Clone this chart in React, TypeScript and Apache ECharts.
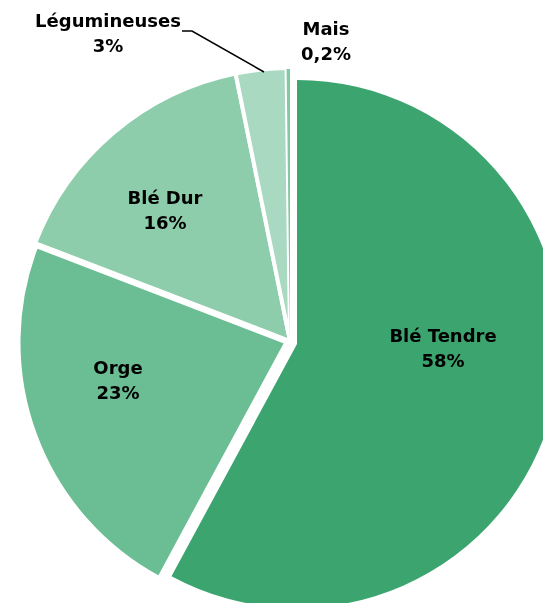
import React, { useEffect, useRef } from "react";
import * as echarts from "echarts";

const categories = ["Blé Tendre", "Orge", "Blé Dur", "Légumineuses", "Mais"];
const values = [58, 23, 16, 3, 0.2];
const percentLabels = ["58%", "23%", "16%", "3%", "0,2%"];
const colors = ["#3ba46f", "#6bbd93", "#8ecdab", "#a9d9c0", "#82c8a2"];

// slice styling (explosion offsets, radii, white borders)
const BASE_CENTER: [number, number] = [290, 341];
const sliceOffsets: [number, number][] = [
  [7, 3],
  [-3.5, 1.3],
  [0, 0],
  [0, 0],
  [0, 0],
];
const sliceRadius = [264, 268, 273, 273, 272];
const borderWidths = [0, 4, 4, 4, 0];

// label anchor positions (centre of the two-line text block)
const labelPos: [number, number][] = [
  [443, 348],
  [118, 380],
  [165, 210],
  [108, 33],
  [326, 41],
];

const FONT = "bold 18px 'DejaVu Sans', sans-serif";

export default function App() {
  const ref = useRef<HTMLDivElement>(null);
  useEffect(() => {
    if (!ref.current) return;
    const chart = echarts.init(ref.current, null, { renderer: "svg" });
    const transparent = "rgba(0,0,0,0)";

    const series = categories.map((_, k) => ({
      type: "pie",
      center: [
        BASE_CENTER[0] + sliceOffsets[k][0],
        BASE_CENTER[1] + sliceOffsets[k][1],
      ],
      radius: [0, sliceRadius[k]],
      startAngle: 90,
      clockwise: true,
      label: { show: false },
      labelLine: { show: false },
      emphasis: { disabled: true },
      silent: true,
      z: 2 + k,
      data: categories.map((name, i) => ({
        name,
        value: values[i],
        itemStyle:
          i === k
            ? {
                color: colors[i],
                borderColor: "#fff",
                borderWidth: borderWidths[i],
              }
            : { color: transparent, borderWidth: 0, borderColor: transparent },
      })),
    }));

    const graphics: any[] = [];
    categories.forEach((c, i) => {
      graphics.push({
        type: "text",
        x: labelPos[i][0],
        y: labelPos[i][1],
        style: {
          text: c + "\n" + percentLabels[i],
          align: "center",
          verticalAlign: "middle",
          font: FONT,
          lineHeight: 25,
          fill: "#000",
        },
        z: 10,
      });
    });
    graphics.push({
      type: "polyline",
      shape: {
        points: [
          [182, 31],
          [192, 31],
          [264, 72],
        ],
      },
      style: { stroke: "#000", lineWidth: 1.5, fill: null },
      z: 10,
    });

    chart.setOption({
      animation: false,
      series,
      graphic: graphics,
    });
    return () => chart.dispose();
  }, []);
  return (
    <div
      ref={ref}
      style={{ position: "fixed", left: 0, top: 0, width: 543, height: 603 }}
    />
  );
}
